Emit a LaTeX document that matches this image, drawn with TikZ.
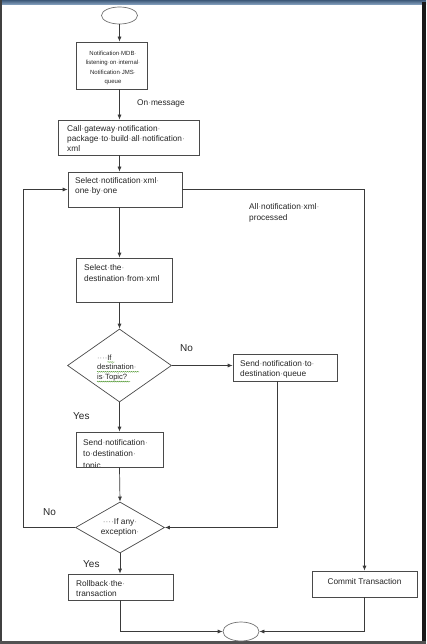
\documentclass[tikz,border=0pt]{standalone}
\usepackage{fontspec}
\setmainfont{Liberation Sans}
\usetikzlibrary{arrows.meta,calc,shapes.geometric,decorations.pathmorphing}
\newcommand{\mydot}{\textcolor{black!45}{·}}
\definecolor{linec}{HTML}{3A3A3A}
\definecolor{boxc}{HTML}{4A4A4A}
\definecolor{txtc}{HTML}{262626}
\definecolor{barA}{HTML}{3D5878}
\definecolor{barB}{HTML}{86A2C0}
\definecolor{wavy}{HTML}{5A9E3C}
\begin{document}
\begin{tikzpicture}[x=1pt,y=-1pt,
  box/.style={draw=boxc,line width=0.7pt,rectangle,inner sep=0pt},
  term/.style={draw=black!55,line width=0.7pt,ellipse,inner sep=0pt},
  dec/.style={draw=boxc,line width=0.7pt,diamond,inner sep=0pt},
  arr/.style={draw=linec,line width=0.7pt,-{Latex[length=5pt,width=4pt]}},
  btxt/.style={inner sep=0pt,text=txtc,align=left,font=\fontsize{8.3}{10}\selectfont},
  lbl/.style={inner sep=0pt,text=txtc,font=\fontsize{10}{12}\selectfont},
  slbl/.style={inner sep=0pt,text=txtc,align=left,font=\fontsize{8.3}{10.5}\selectfont},
  squig/.style={draw=wavy,line width=0.45pt,decorate,decoration={snake,segment length=2pt,amplitude=0.45pt}}
]
\useasboundingbox (0,0) rectangle (426,644);
\fill[white] (0,0) rectangle (426,644);

% frame
\shade[top color=barA,bottom color=barB] (0,0) rectangle (426,4.5);
\fill[black!75] (0,0) rectangle (1.6,644);
\fill[black!90] (421.5,2) rectangle (426,644);
\fill[black!68] (0,640.5) rectangle (426,644);

% clipped text of the topic box (drawn before its frame)
\begin{scope}
  \clip (76,432) rectangle (163,467);
  \node[btxt,anchor=base west,font=\fontsize{8.3}{11.5}\selectfont] (t6) at (83,468)
    {Send\mydot notification\mydot\\to\mydot destination\mydot\\topic};
\end{scope}

% nodes
\node[term,minimum width=36pt,minimum height=17pt] (s) at (119.5,15.5) {};
\node[box,minimum width=71pt,minimum height=47pt] (b1) at (111.5,65.5) {};
\node[box,minimum width=141pt,minimum height=35pt] (b2) at (128.5,137.5) {};
\node[box,minimum width=114pt,minimum height=35pt] (b3) at (125,189.5) {};
\node[box,minimum width=96pt,minimum height=44pt] (b4) at (124,280) {};
\node[dec,minimum width=104pt,minimum height=73pt] (d1) at (119.5,365.5) {};
\node[box,minimum width=104pt,minimum height=27pt] (b5) at (285,367.5) {};
\node[box,minimum width=87pt,minimum height=35pt] (b6) at (119.5,449.5) {};
\node[dec,minimum width=89pt,minimum height=51pt] (d2) at (120,527.5) {};
\node[box,minimum width=105pt,minimum height=26pt] (b7) at (120.5,587) {};
\node[box,minimum width=105pt,minimum height=26pt] (b8) at (364.5,584) {};
\node[term,minimum width=36pt,minimum height=19pt] (e) at (241,631.5) {};

% texts (anchor base = baseline of the last line)
\node[inner sep=0pt,text=txtc,align=center,font=\fontsize{6}{9.2}\selectfont,anchor=base] (t1) at (113,83.4)
  {Notification\mydot MDB\mydot\\listening\mydot on\mydot internal\mydot\\Notification\mydot JMS\mydot\\queue};
\node[btxt,anchor=base west] (t2) at (67,152)
  {Call\mydot gateway\mydot notification\mydot\\package\mydot to\mydot build\mydot all\mydot notification\mydot\\xml};
\node[btxt,anchor=base west] (t3) at (75,194)
  {Select\mydot notification\mydot xml\mydot\\one\mydot by\mydot one};
\node[btxt,anchor=base west,font=\fontsize{8.3}{11}\selectfont] (t4) at (84,281)
  {Select\mydot the\mydot\\destination\mydot from\mydot xml};
\node[btxt,anchor=base west,font=\fontsize{7.6}{9.8}\selectfont] (td1) at (97,379.6)
  {\mydot\mydot\mydot\mydot If\\destination\mydot\\is\mydot Topic?};
\node[btxt,anchor=base west] (t5) at (240,376)
  {Send\mydot notification\mydot to\mydot\\destination\mydot queue};
\node[btxt,anchor=base,align=center,font=\fontsize{8.3}{10.5}\selectfont] (td2) at (120,534.5)
  {\mydot\mydot\mydot\mydot If any\mydot\\exception\mydot};
\node[btxt,anchor=base west] (t7) at (76,596)
  {Rollback\mydot the\mydot\\transaction};
\node[btxt,anchor=base] (t8) at (364.5,584) {Commit Transaction};

% green squiggles (grammar marks)
\draw[squig] (107.5,362) -- (114.5,362);
\draw[squig] (97,371.8) -- (139,371.8);
\draw[squig] (97,381.6) -- (130,381.6);

% labels
\node[slbl,anchor=base west,font=\fontsize{8.3}{10}\selectfont] (lOn) at (137,106) {On\mydot message};
\node[slbl,anchor=base west] (lAll) at (249,220.5) {All\mydot notification\mydot xml\mydot\\processed};
\node[lbl,anchor=base west] (lNo1) at (180,351) {No};
\node[lbl,anchor=base west] (lYes1) at (73,419) {Yes};
\node[lbl,anchor=base west] (lNo2) at (43,515) {No};
\node[lbl,anchor=base west] (lYes2) at (83,567) {Yes};

% connectors
\coordinate (lp) at (23,527.5);
\draw[arr] (s.south) -- (s |- b1.north);
\draw[arr] (s |- b1.south) -- (s |- b2.north);
\draw[arr] (s |- b2.south) -- (s |- b3.north);
\draw[arr] (s |- b3.south) -- (s |- b4.north);
\draw[arr] (s |- b4.south) -- (d1.north);
\draw[arr] (d1.east) -- (d1.east -| b5.west);
\draw[arr] (d1.south) -- (b6.north);
\draw[arr] (b6.south) -- (d2.north);
\draw[arr] (d2.south) -- (d2.south |- b7.north);
\draw[arr] ($(b5.south)+(-8,0)$) |- (d2.east);
\draw[arr] (d2.west) -- (lp) |- (b3.west);
\draw[arr] (b3.east) -| (b8.north);
\draw[arr] (b7.south) |- (e.west);
\draw[arr] (b8.south) |- (e.east);
\end{tikzpicture}
\end{document}
